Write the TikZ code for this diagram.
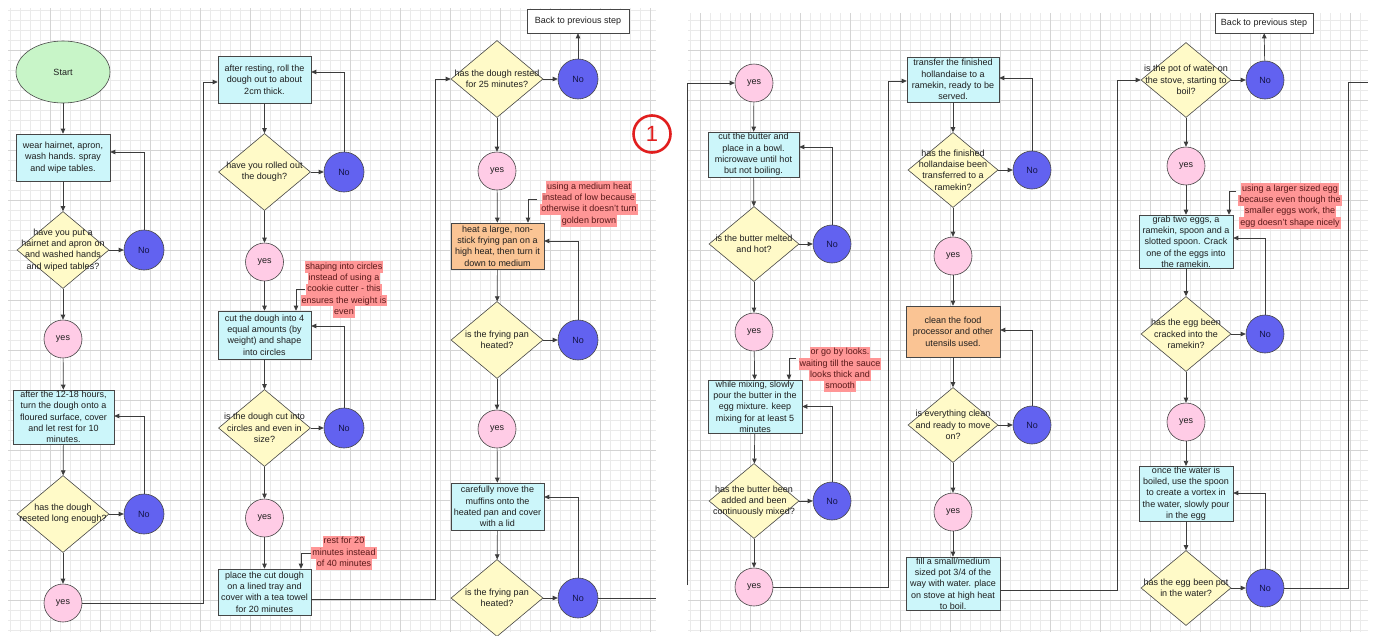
\documentclass[tikz,border=0pt]{standalone}
\usepackage{fontspec}
\setmainfont{Liberation Sans}
\usetikzlibrary{shapes.geometric,arrows.meta,calc}
\definecolor{cyanbox}{RGB}{204,246,250}
\definecolor{orangebox}{RGB}{250,196,148}
\definecolor{yellowd}{RGB}{255,250,200}
\definecolor{pinkc}{RGB}{255,204,230}
\definecolor{blueno}{RGB}{98,98,240}
\definecolor{greenst}{RGB}{200,245,200}
\definecolor{bord}{RGB}{70,70,70}
\definecolor{lnc}{RGB}{60,60,60}
\definecolor{txt}{RGB}{30,30,30}
\definecolor{hlc}{RGB}{255,150,150}
\definecolor{anntxt}{RGB}{90,25,25}
\definecolor{gminor}{RGB}{234,234,234}
\definecolor{gmajor}{RGB}{212,212,212}
\definecolor{redmark}{RGB}{225,30,30}
\definecolor{notxt}{RGB}{20,20,70}
\setlength{\fboxsep}{0pt}
\newcommand{\hlt}[1]{\colorbox{hlc}{\strut\kern1pt #1\kern1pt}}
\tikzset{
  base/.style={font=\fontsize{9}{11.3}\selectfont, text=txt},
  proc/.style={base, draw=bord, line width=0.6pt, fill=cyanbox, align=center, inner sep=0.5pt, minimum width=93pt, minimum height=47pt},
  orng/.style={proc, fill=orangebox},
  dia/.style={diamond, draw=bord, fill=yellowd, line width=0.6pt, minimum width=92pt, minimum height=77pt, inner sep=0pt},
  diar/.style={dia, minimum width=90pt, minimum height=75pt},
  dtext/.style={base, align=center, inner sep=0pt},
  yesc/.style={circle, draw=bord, fill=pinkc, minimum size=38pt, inner sep=0pt, line width=0.6pt, base},
  noc/.style={circle, draw=bord, fill=blueno, minimum size=40pt, inner sep=0pt, line width=0.6pt, base, text=notxt},
  nocr/.style={noc, minimum size=38pt},
  arr/.style={draw=lnc, line width=0.7pt, -{Triangle[length=5pt,width=4.5pt]}},
  ln/.style={draw=lnc, line width=0.7pt},
  ann/.style={base, align=center, inner sep=0pt, text=anntxt},
  backbox/.style={base, draw=bord, fill=white, line width=0.6pt, inner sep=0pt},
}
\begin{document}
\begin{tikzpicture}[x=1pt,y=-1pt]
\useasboundingbox (0,0) rectangle (1373,635);
\fill[white] (0,0) rectangle (1373,635);
% grid panels
\draw[step=10pt, gminor, line width=0.4pt] (8,8) grid (656,632);
\draw[step=50pt, gmajor, line width=0.5pt] (8,8) grid (656,632);
\draw[step=10pt, gminor, line width=0.4pt] (688,13) grid (1368,632);
\draw[step=50pt, gmajor, line width=0.5pt] (688,13) grid (1368,632);

% ===== Column 1 =====
\node[ellipse, draw=bord, fill=greenst, line width=0.6pt, minimum width=94pt, minimum height=62pt, base] (st) at (63,72) {Start};
\node[proc, minimum width=94pt] (b1) at (63,157.5) {wear hairnet, apron,\\ wash hands. spray\\ and wipe tables.};
\node[dia, label={[dtext]center:{have you put a\\ hairnet and apron on\\ and washed hands\\ and wiped tables?}}] (d1) at (63,250) {};
\node[noc] (n1) at (144,250) {No};
\node[yesc] (y1) at (63,339) {yes};
\node[proc, minimum width=101pt, minimum height=54pt] (b2) at (63.5,417) {after the 12-18 hours,\\ turn the dough onto a\\ floured surface, cover\\ and let rest for 10\\ minutes.};
\node[dia, label={[dtext]center:{has the dough\\ reseted long enough?}}] (d2) at (63,514) {};
\node[noc] (n2) at (144,514) {No};
\node[yesc] (y2) at (63,603) {yes};

% ===== Column 2 =====
\node[proc] (b3) at (264.5,79.5) {after resting, roll the\\ dough out to about\\ 2cm thick.};
\node[dia, label={[dtext]center:{have you rolled out\\ the dough?}}] (d3) at (264.5,172) {};
\node[noc] (n3) at (344,172) {No};
\node[yesc] (y3) at (264.5,262) {yes};
\node[ann] (a1) at (344,289.5) {\hlt{shaping into circles}\\ \hlt{instead of using a}\\ \hlt{cookie cutter - this}\\ \hlt{ensures the weight is}\\ \hlt{even}};
\node[proc, minimum height=48pt] (b4) at (264.5,335) {cut the dough into 4\\ equal amounts (by\\ weight) and shape\\ into circles};
\node[dia, label={[dtext]center:{is the dough cut into\\ circles and even in\\ size?}}] (d4) at (264.5,428) {};
\node[noc] (n4) at (344,428) {No};
\node[yesc] (y4) at (264.5,518) {yes};
\node[ann] (a2) at (344,553) {\hlt{rest for 20}\\ \hlt{minutes instead}\\ \hlt{of 40 minutes}};
\node[proc, minimum height=46pt] (b5) at (264.5,592) {place the cut dough\\ on a lined tray and\\ cover with a tea towel\\ for 20 minutes};

% ===== Column 3 =====
\node[backbox, minimum width=102pt, minimum height=24pt] (bk1) at (578,21) {Back to previous step};
\node[dia, label={[dtext]center:{has the dough rested\\ for 25 minutes?}}] (d5) at (497,79) {};
\node[noc] (n5) at (578,79) {No};
\node[yesc] (y5) at (497,171) {yes};
\node[ann] (a3) at (589,204) {\hlt{using a medium heat}\\ \hlt{instead of low because}\\ \hlt{otherwise it doesn't turn}\\ \hlt{golden brown}};
\node[orng, minimum height=46pt] (b6) at (497.5,246) {heat a large, non-\\ stick frying pan on a\\ high heat, then turn it\\ down to medium};
\node[dia, label={[dtext]center:{is the frying pan\\ heated?}}] (d6) at (497,340) {};
\node[noc] (n6) at (578,340) {No};
\node[yesc] (y6) at (497,429) {yes};
\node[proc] (b7) at (497.5,506.5) {carefully move the\\ muffins onto the\\ heated pan and cover\\ with a lid};
\node[dia, label={[dtext]center:{is the frying pan\\ heated?}}] (d7) at (497,598) {};
\node[noc] (n7) at (578,598) {No};

% red marker
\node[circle, draw=redmark, line width=2.6pt, minimum size=37pt, inner sep=0pt, text=redmark, font=\fontsize{22}{22}\selectfont] (mk) at (652,134) {1};

% ===== Column 4 =====
\node[yesc] (y8) at (754,83) {yes};
\node[proc, minimum width=91pt, minimum height=45pt] (b8) at (753.5,154.5) {cut the butter and\\ place in a bowl.\\ microwave until hot\\ but not boiling.};
\node[diar, label={[dtext]center:{is the butter melted\\ and hot?}}] (d8) at (754,244) {};
\node[nocr] (n8) at (832,244) {No};
\node[yesc] (y9) at (754,332) {yes};
\node[ann] (a4) at (840,369.5) {\hlt{or go by looks.}\\ \hlt{waiting till the sauce}\\ \hlt{looks thick and}\\ \hlt{smooth}};
\node[proc, minimum width=94pt, minimum height=53pt] (b9) at (755,406.5) {while mixing, slowly\\ pour the butter in the\\ egg mixture. keep\\ mixing for at least 5\\ minutes};
\node[diar, label={[dtext]center:{has the butter been\\ added and been\\ continuously mixed?}}] (d9) at (754,501) {};
\node[nocr] (n9) at (832,501) {No};
\node[yesc] (y10) at (754,587) {yes};

% ===== Column 5 =====
\node[proc, minimum width=92pt, minimum height=45pt] (b10) at (953,79.5) {transfer the finished\\ hollandaise to a\\ ramekin, ready to be\\ served.};
\node[diar, label={[dtext]center:{has the finished\\ hollandaise been\\ transferred to a\\ ramekin?}}] (d10) at (953,170) {};
\node[nocr] (n10) at (1032,170) {No};
\node[yesc] (y11) at (953,256) {yes};
\node[orng, minimum width=94pt, minimum height=51pt] (b11) at (953,331.5) {clean the food\\ processor and other\\ utensils used.};
\node[diar, label={[dtext]center:{is everything clean\\ and ready to move\\ on?}}] (d11) at (953,425) {};
\node[nocr] (n11) at (1032,425) {No};
\node[yesc] (y12) at (953,512) {yes};
\node[proc, minimum width=94pt, minimum height=53pt] (b12) at (953,583.5) {fill a small/medium\\ sized pot 3/4 of the\\ way with water. place\\ on stove at high heat\\ to boil.};

% ===== Column 6 =====
\node[backbox, minimum width=98pt, minimum height=20pt] (bk2) at (1264,23) {Back to previous step};
\node[diar, label={[dtext]center:{is the pot of water on\\ the stove, starting to\\ boil?}}] (d12) at (1186,80) {};
\node[nocr] (n12) at (1265,80) {No};
\node[yesc] (y13) at (1186,166) {yes};
\node[ann] (a5) at (1290,206) {\hlt{using a larger sized egg}\\ \hlt{because even though the}\\ \hlt{smaller eggs work, the}\\ \hlt{egg doesn't shape nicely}};
\node[proc, minimum width=94pt, minimum height=53pt] (b13) at (1186,241.5) {grab two eggs, a\\ ramekin, spoon and a\\ slotted spoon. Crack\\ one of the eggs into\\ the ramekin.};
\node[diar, label={[dtext]center:{has the egg been\\ cracked into the\\ ramekin?}}] (d13) at (1186,334) {};
\node[nocr] (n13) at (1265,334) {No};
\node[yesc] (y14) at (1186,422) {yes};
\node[proc, minimum width=94pt, minimum height=53pt] (b14) at (1186,493.5) {once the water is\\ boiled, use the spoon\\ to create a vortex in\\ the water, slowly pour\\ in the egg};
\node[diar, label={[dtext]center:{has the egg been pot\\ in the water?}}] (d14) at (1186,588) {};
\node[nocr] (n14) at (1265,588) {No};

% free-end coordinates
\coordinate (a1s) at (305,289);
\coordinate (a2s) at (311,553);
\coordinate (a3s) at (537,199);
\coordinate (a4s) at (796,358);
\coordinate (a5s) at (1236,191);
\coordinate (lout) at (656,598);
\coordinate (rin) at (687,585);
\coordinate (rout) at (1368,82);

% ===== connectors col 1 =====
\draw[arr] (st) -- (b1);
\draw[arr] (b1) -- (d1);
\draw[arr] (d1) -- (n1);
\draw[arr] (n1) |- ([yshift=5.5pt]b1.east);
\draw[arr] (d1) -- (y1);
\draw[arr] (y1) -- (b2);
\draw[arr] (b2) -- (d2);
\draw[arr] (d2) -- (n2);
\draw[arr] (n2) |- ([yshift=1pt]b2.east);
\draw[arr] (d2) -- (y2);
\draw[arr] (y2.east) -- ++(121,0) |- ([yshift=-2.5pt]b3.west);

% ===== connectors col 2 =====
\draw[arr] (b3) -- (d3);
\draw[arr] (d3) -- (n3);
\draw[arr] (n3) |- ([yshift=7.5pt]b3.east);
\draw[arr] (d3) -- (y3);
\draw[arr] (y3) -- (b4);
\draw[arr] (a1s) -| ([xshift=31.5pt]b4.north);
\draw[arr] (b4) -- (d4);
\draw[arr] (d4) -- (n4);
\draw[arr] (n4) |- ([yshift=9pt]b4.east);
\draw[arr] (d4) -- (y4);
\draw[arr] (y4) -- (b5);
\draw[arr] (a2s) -| ([xshift=36.5pt]b5.north);
\draw[arr] ([yshift=-7pt]b5.east) -- ++(124,0) |- (d5.west);

% ===== connectors col 3 =====
\draw[arr] (d5) -- (n5);
\draw[arr] (n5) -- (bk1);
\draw[arr] (d5) -- (y5);
\draw[arr] (y5) -- (b6);
\draw[arr] (a3s) -| ([xshift=30.5pt]b6.north);
\draw[arr] (b6) -- (d6);
\draw[arr] (d6) -- (n6);
\draw[arr] (n6) |- ([yshift=5pt]b6.east);
\draw[arr] (d6) -- (y6);
\draw[arr] (y6) -- (b7);
\draw[arr] (b7) -- (d7);
\draw[arr] (d7) -- (n7);
\draw[arr] (n7) |- ([yshift=9.5pt]b7.east);
\draw[ln] (n7) -- (lout);

% ===== connectors col 4 =====
\draw[arr] (rin) |- (y8);
\draw[arr] (y8) -- (b8);
\draw[arr] (b8) -- (d8);
\draw[arr] (d8) -- (n8);
\draw[arr] (n8) |- ([yshift=7.5pt]b8.east);
\draw[arr] (d8) -- (y9);
\draw[arr] (y9) -- (b9);
\draw[arr] (a4s) -| ([xshift=34pt]b9.north);
\draw[arr] (b9) -- (d9);
\draw[arr] (d9) -- (n9);
\draw[arr] (n9) |- (b9.east);
\draw[arr] (d9) -- (y10);
\draw[arr] (y10.east) -- ++(115,0) |- ([yshift=-1.5pt]b10.west);

% ===== connectors col 5 =====
\draw[arr] (b10) -- (d10);
\draw[arr] (d10) -- (n10);
\draw[arr] (n10) |- ([yshift=1.5pt]b10.east);
\draw[arr] (d10) -- (y11);
\draw[arr] (y11) -- (b11);
\draw[arr] (b11) -- (d11);
\draw[arr] (d11) -- (n11);
\draw[arr] (n11) |- ([yshift=1.5pt]b11.east);
\draw[arr] (d11) -- (y12);
\draw[arr] (y12) -- (b12);
\draw[arr] ([yshift=-6.5pt]b12.east) -- ++(117,0) |- (d12.west);

% ===== connectors col 6 =====
\draw[arr] (d12) -- (n12);
\draw[arr] (n12) -- (bk2);
\draw[arr] (d12) -- (y13);
\draw[arr] (y13) -- (b13);
\draw[arr] (a5s) -| ([xshift=43pt]b13.north);
\draw[arr] (b13) -- (d13);
\draw[arr] (d13) -- (n13);
\draw[arr] (n13) |- ([yshift=3.5pt]b13.east);
\draw[arr] (d13) -- (y14);
\draw[arr] (y14) -- (b14);
\draw[arr] (b14) -- (d14);
\draw[arr] (d14) -- (n14);
\draw[arr] (n14) |- ([yshift=0.5pt]b14.east);
\draw[ln] (n14.east) -- ++(64,0) |- (rout);
\end{tikzpicture}
\end{document}
